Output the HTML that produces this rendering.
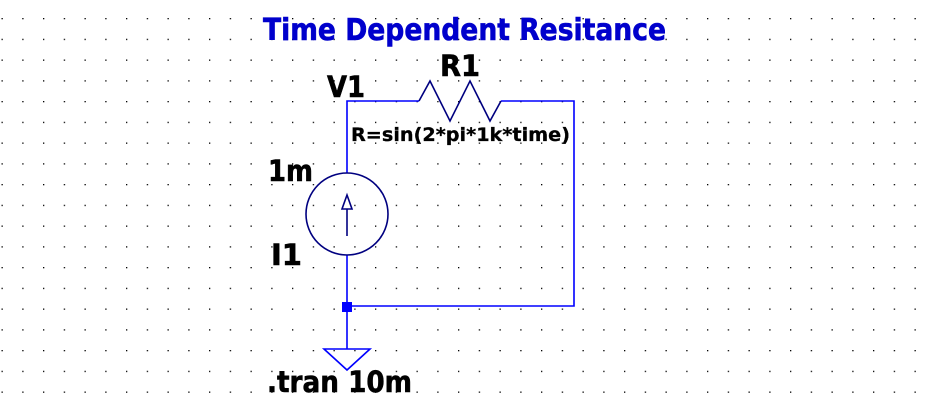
<!DOCTYPE html>
<html><head><style>
html,body{margin:0;padding:0;background:#fff;}
svg{display:block;}
text{font-family:"DejaVu Sans","Liberation Sans",sans-serif;font-weight:bold;}
</style></head><body>
<svg width="934" height="409" viewBox="0 0 934 409" xmlns="http://www.w3.org/2000/svg">
<defs>
<pattern id="g" x="1.5" y="18" width="20.75" height="20.75" patternUnits="userSpaceOnUse">
<rect x="0" y="0" width="1.3" height="1.3" fill="#000"/>
</pattern>
</defs>
<rect width="934" height="409" fill="#fff"/>
<rect width="934" height="409" fill="url(#g)"/>
<g fill="none" stroke="#0000ff" stroke-width="1.6">
<polyline points="347,173 347,101 419,101"/>
<polyline points="501,101 574,101 574,306 347,306"/>
<line x1="347" y1="255" x2="347" y2="349"/>
<polygon points="324,349 370,349 347,370"/>
</g>
<g fill="none" stroke="#000080" stroke-width="1.6">
<polyline points="419,101 430,81 450,121 470,81 490,121 501,101"/>
<circle cx="347" cy="214" r="41"/>
<line x1="347" y1="236" x2="347" y2="209"/>
<polygon points="342,209 352,209 347,195"/>
</g>
<rect x="342" y="302" width="10" height="10" fill="#0000ff"/>
<g stroke-width="0.6">
<text x="263" y="40" font-size="30" fill="#0000cc" stroke="#0000cc" textLength="403" lengthAdjust="spacingAndGlyphs">Time Dependent Resitance</text>
<text x="440" y="76" font-size="29" fill="#000" stroke="#000" textLength="40" lengthAdjust="spacingAndGlyphs">R1</text>
<text x="327" y="97" font-size="29" fill="#000" stroke="#000" textLength="38" lengthAdjust="spacingAndGlyphs">V1</text>
<text x="351" y="141" font-size="19" fill="#000" stroke="#000" stroke-width="0.3" textLength="219" lengthAdjust="spacingAndGlyphs">R=sin(2*pi*1k*time)</text>
<text x="268" y="181" font-size="29" fill="#000" stroke="#000" textLength="45" lengthAdjust="spacingAndGlyphs">1m</text>
<text x="271" y="265" font-size="29" fill="#000" stroke="#000" textLength="31" lengthAdjust="spacingAndGlyphs">I1</text>
<text x="267" y="392" font-size="29" fill="#000" stroke="#000" textLength="145" lengthAdjust="spacingAndGlyphs">.tran 10m</text>
</g>
</svg>
</body></html>
